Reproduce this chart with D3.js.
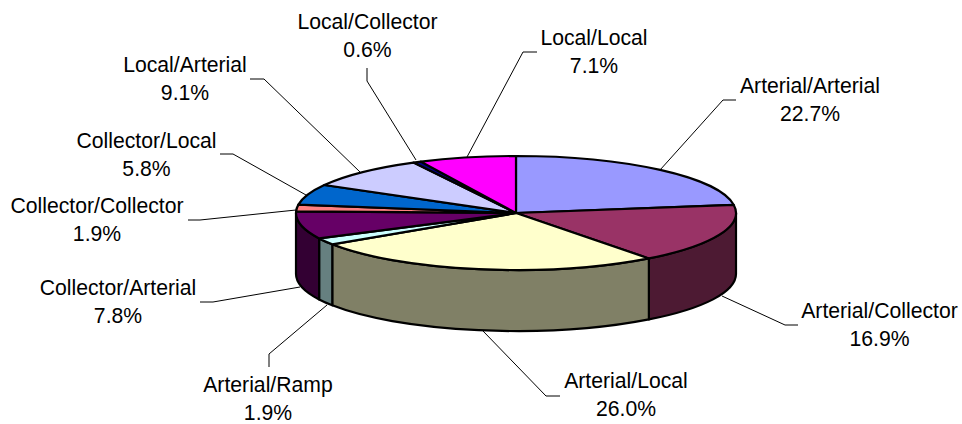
<!DOCTYPE html>
<html><head><meta charset="utf-8">
<style>html,body{margin:0;padding:0;background:#fff}svg{display:block}text{font-family:"Liberation Sans",Arial,sans-serif;font-size:21.2px;fill:#000;text-anchor:middle}</style>
<script src="https://cdn.jsdelivr.net/npm/d3@7"></script></head><body>
<script>
const categories=["Arterial/Arterial","Arterial/Collector","Arterial/Local","Arterial/Ramp","Collector/Arterial","Collector/Collector","Collector/Local","Local/Arterial","Local/Collector","Local/Local"];
const values=[22.7,16.9,26.0,1.9,7.8,1.9,5.8,9.1,0.6,7.1];
const topColors=["#9999FF","#993366","#FFFFCC","#CCFFFF","#660066","#FF8080","#0066CC","#CCCCFF","#000080","#FF00FF"];
const sideColors=["#4D4D80","#4D1A33","#808066","#668080","#330033","#804040","#003366","#666680","#000040","#800080"];
// layout: label centre x, first-line baseline y, leader polyline (label end, elbow, chart end)
const labelLayout=[
 {x:810,  y:93, l:[[736,100],[723,100],[660,170]]},
 {x:879.5,y:318,l:[[798,325],[785,325],[722,296]]},
 {x:626,  y:388,l:[[560,396],[546,396],[483,331]]},
 {x:268,  y:392,l:[[269,367],[269,354],[327,305]]},
 {x:118,  y:295,l:[[200,302],[213,302],[300,287]]},
 {x:97,   y:213,l:[[188,220],[200,220],[296,210]]},
 {x:146.5,y:148,l:[[220,154],[233,154],[306,195]]},
 {x:185,  y:72, l:[[250,79],[264,79],[360,172]]},
 {x:367.5,y:29, l:[[367,68],[367,81],[416,160]]},
 {x:594,  y:45, l:[[537,52],[523,52],[467,157]]}
];
const W=962,H=424,depth=61,lineGap=27.6;
const sx=d3.scaleLinear().domain([-1,1]).range([296,736]);
const sy=d3.scaleLinear().domain([-1,1]).range([156,270]);
const rx=(sx(1)-sx(-1))/2, ry=(sy(1)-sy(-1))/2;
const px=a=>sx(Math.sin(a)), py=a=>sy(-Math.cos(a));
const svg=d3.select("body").append("svg").attr("width",W).attr("height",H);
const arcs=d3.pie().sort(null)(values);
// side walls: front half of the ellipse only (angles between PI/2 and 3PI/2)
const sides=arcs.map((d,i)=>({i,a0:Math.max(d.startAngle,Math.PI/2),a1:Math.min(d.endAngle,3*Math.PI/2)})).filter(d=>d.a1>d.a0);
const leader=d3.line();
svg.append("g").selectAll("path").data(labelLayout).join("path")
 .attr("d",d=>leader(d.l)).attr("fill","none").attr("stroke","#000").attr("stroke-width",1);
svg.append("g").selectAll("path").data(sides).join("path")
 .attr("d",d=>{
   const x0=px(d.a0),y0=py(d.a0),x1=px(d.a1),y1=py(d.a1);
   return `M${x0},${y0}A${rx},${ry} 0 0 1 ${x1},${y1}L${x1},${y1+depth}A${rx},${ry} 0 0 0 ${x0},${y0+depth}Z`;})
 .attr("fill",d=>sideColors[d.i]).attr("stroke","#000").attr("stroke-width",2.2).attr("stroke-linejoin","round");
svg.append("g").selectAll("path").data(arcs).join("path")
 .attr("d",d=>{const large=d.endAngle-d.startAngle>Math.PI?1:0;
   return `M${sx(0)},${sy(0)}L${px(d.startAngle)},${py(d.startAngle)}A${rx},${ry} 0 ${large} 1 ${px(d.endAngle)},${py(d.endAngle)}Z`;})
 .attr("fill",(d,i)=>topColors[i]).attr("stroke","#000").attr("stroke-width",2.2).attr("stroke-linejoin","round");
const t=svg.append("g").selectAll("text").data(categories).join("text").attr("y",(d,i)=>labelLayout[i].y);
t.append("tspan").attr("x",(d,i)=>labelLayout[i].x).text(d=>d);
t.append("tspan").attr("x",(d,i)=>labelLayout[i].x).attr("dy",lineGap).text((d,i)=>values[i].toFixed(1)+"%");
</script></body></html>
